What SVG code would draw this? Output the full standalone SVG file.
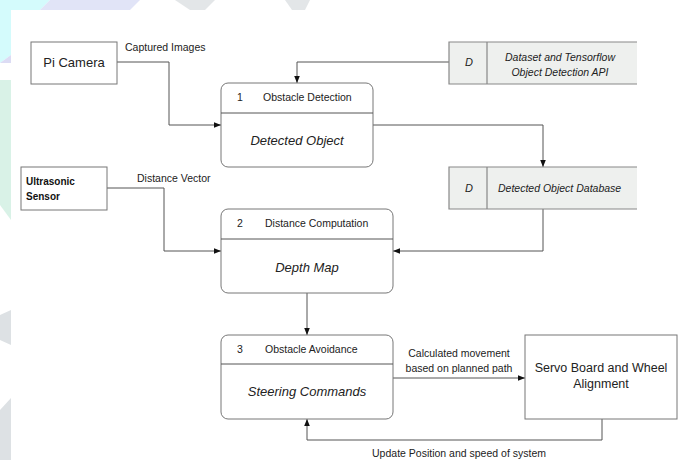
<svg xmlns="http://www.w3.org/2000/svg" width="678" height="460" viewBox="0 0 678 460">
<style>
.t{font-family:"Liberation Sans",Arial,sans-serif;font-size:10.5px;fill:#222}
.i{font-style:italic}
.big{font-size:13px}
.box{fill:#fff;stroke:#777;stroke-width:1}
.store{fill:#eef0ee;stroke:none}
.sl{stroke:#888;stroke-width:1.2;fill:none}
.c{stroke:#555;stroke-width:1;fill:none}
</style>
<defs>
<marker id="ah" viewBox="0 0 10 10" refX="10" refY="5" markerWidth="7" markerHeight="7" orient="auto" markerUnits="userSpaceOnUse">
<path d="M0,1 L10,5 L0,9 z" fill="#111"/>
</marker>
</defs>
<g id="background">
<rect x="0" y="0" width="678" height="460" fill="#fff"/>
<polygon points="0,0 50,0 40,10 11,10 11,55 0,63" fill="#d4fbfc"/>
<polygon points="50,0 140,0 130,10 40,10" fill="#e1e4f7"/>
<polygon points="0,63 11,55 11,63" fill="#dcdcf4"/>
<polygon points="175,0 215,0 205,10 190,10" fill="#e3e6e8"/>
<polygon points="285,0 310,0 305,10 292,10" fill="#e3e6e8"/>
<polygon points="0,80 11,80 11,220 0,205" fill="#d9f2e7"/>
<polygon points="0,315 11,310 11,345 0,340" fill="#dde1e4"/>
<polygon points="0,410 11,398 11,460 0,460" fill="#dde1e4"/>
</g>
<g id="connectors">
<path class="c" d="M117,62 H169 V125 H221" marker-end="url(#ah)"/>
<path class="c" d="M449,62 H297 V83" marker-end="url(#ah)"/>
<path class="c" d="M373,125 H543 V167" marker-end="url(#ah)"/>
<path class="c" d="M543,209 V251 H393" marker-end="url(#ah)"/>
<path class="c" d="M107,188 H164 V251 H221" marker-end="url(#ah)"/>
<path class="c" d="M307,293 V335" marker-end="url(#ah)"/>
<path class="c" d="M393,378 H525" marker-end="url(#ah)"/>
<path class="c" d="M602,419 V440 H307 V419" marker-end="url(#ah)"/>
<text class="t" x="125" y="51">Captured Images</text>
<text class="t" x="137" y="182">Distance Vector</text>
<text class="t" x="459" y="357" text-anchor="middle">Calculated movement</text>
<text class="t" x="459" y="372" text-anchor="middle">based on planned path</text>
<text class="t" x="459" y="457" text-anchor="middle">Update Position and speed of system</text>
</g>
<g id="pi-camera">
<rect class="box" x="31" y="42" width="86" height="42"/>
<text class="t" x="74" y="67" text-anchor="middle" style="font-size:13px">Pi Camera</text>
</g>
<g id="ultrasonic-sensor">
<rect class="box" x="21" y="167" width="86" height="43"/>
<text class="t" x="26" y="185" style="font-weight:bold;font-size:10px;fill:#111">Ultrasonic</text>
<text class="t" x="26" y="200" style="font-weight:bold;font-size:10px;fill:#111">Sensor</text>
</g>
<g id="dataset-store">
<rect class="store" x="449" y="42" width="188" height="42"/>
<path class="sl" d="M637,42 H449 V84 H637 M487,42 V84"/>
<text class="t i" x="465" y="66" style="font-size:11px">D</text>
<text class="t i" x="560" y="61" text-anchor="middle">Dataset and Tensorflow</text>
<text class="t i" x="560" y="76" text-anchor="middle">Object Detection API</text>
</g>
<g id="detected-object-db">
<rect class="store" x="449" y="167" width="188" height="42"/>
<path class="sl" d="M637,167 H449 V209 H637 M487,167 V209"/>
<text class="t i" x="465" y="192" style="font-size:11px">D</text>
<text class="t i" x="498" y="192">Detected Object Database</text>
</g>
<g id="process-1">
<rect class="box" x="221" y="83" width="152" height="84" rx="7"/>
<line class="c" x1="221" y1="113" x2="373" y2="113" stroke="#777"/>
<text class="t" x="237" y="101">1</text>
<text class="t" x="263" y="101">Obstacle Detection</text>
<text class="t i big" x="297" y="145" text-anchor="middle">Detected Object</text>
</g>
<g id="process-2">
<rect class="box" x="221" y="209" width="172" height="84" rx="7"/>
<line class="c" x1="221" y1="239" x2="393" y2="239" stroke="#777"/>
<text class="t" x="237" y="227">2</text>
<text class="t" x="265" y="227">Distance Computation</text>
<text class="t i big" x="307" y="272" text-anchor="middle">Depth Map</text>
</g>
<g id="process-3">
<rect class="box" x="221" y="335" width="172" height="84" rx="7"/>
<line class="c" x1="221" y1="364" x2="393" y2="364" stroke="#777"/>
<text class="t" x="237" y="353">3</text>
<text class="t" x="265" y="353">Obstacle Avoidance</text>
<text class="t i big" x="307" y="396" text-anchor="middle">Steering Commands</text>
</g>
<g id="servo-board">
<rect class="box" x="525" y="335" width="152" height="84"/>
<text class="t" x="601" y="372" text-anchor="middle" style="font-size:12.5px">Servo Board and Wheel</text>
<text class="t" x="601" y="388" text-anchor="middle" style="font-size:12.5px">Alignment</text>
</g>
</svg>
